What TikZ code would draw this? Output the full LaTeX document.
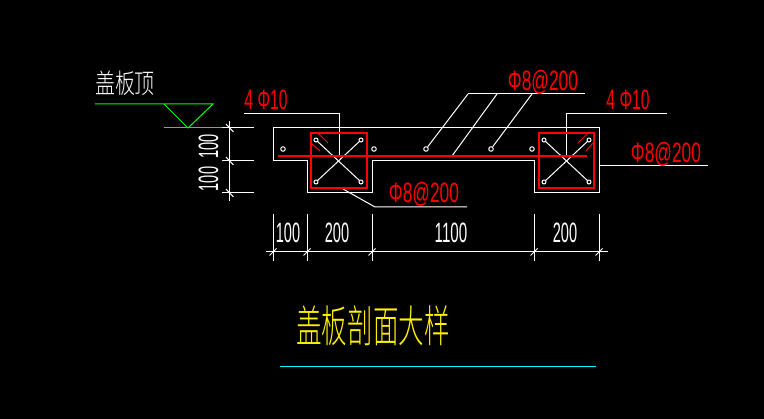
\documentclass[tikz,border=0pt]{standalone}
\usepackage{fontspec}
\setmainfont{Liberation Sans}
\newfontfamily\cjk[UprightFont={* Light}]{Noto Sans CJK SC}
\newcommand\narrow[2]{\scalebox{#1}[1]{#2}}
\definecolor{cadgreen}{RGB}{0,255,0}
\definecolor{cadcyan}{RGB}{0,255,255}
\tikzset{
	rebar/.style={red,line width=1.1pt},
	dimtext/.style={white,inner sep=0pt,anchor=base,font=\fontsize{28}{28}\selectfont},
	redtext/.style={red,inner sep=0pt,anchor=base,font=\fontsize{28}{28}\selectfont}
}

\begin{document}
\begin{tikzpicture}[x=1pt,y=-1pt,line width=1pt]
		\path[fill=black,use as bounding box] (0,0) rectangle (764,419);
		% section outline
		\draw[white] (273,128) -- (599,128) -- (599,193) -- (534,193) -- (534,161)
			-- (372,161) -- (372,193) -- (307,193) -- (307,161) -- (273,161) -- cycle;
		% corner bars
		\foreach \name/\xa/\xb in {l/316/361,r/544/589} {
			\coordinate (\name nw) at (\xa,140);
			\coordinate (\name ne) at (\xb,140);
			\coordinate (\name sw) at (\xa,182);
			\coordinate (\name se) at (\xb,182);
			\draw[white] (\name nw) -- (\name se);
			\draw[white] (\name ne) -- (\name sw);
			\foreach \corner in {nw,ne,sw,se}
				\draw[white,fill=black] (\name\corner) circle (2pt);
		}
		% slab bars
		\foreach \name/\xa in {a/283,b/374,c/426,d/491,e/532} {
			\node(bar\name)[draw=white,fill=black,circle,inner sep=0pt,minimum size=4.5pt] at (\xa,149) {};
		}
		% leaders
		\coordinate (topend) at (585,94);
		\coordinate (topa) at (468,94);
		\coordinate (topb) at (497,94);
		\coordinate (topc) at (532,94);
		\coordinate (slabhit) at (452,156);
		\draw[white] (topa) -- (topend);
		\draw[white] (topa) -- (barc);
		\draw[white] (topb) -- (slabhit);
		\draw[white] (topc) -- (bard);
		\coordinate (lefthit) at (339,156);
		\coordinate (righthit) at (566,156);
		\draw[white] (244,114) -- (339,114) -- (lefthit);
		\draw[white] (667,114) -- (566,114) -- (righthit);
		\draw[white] (599,166) -- (708,166);
		\draw[white] (343,189) -- (375,207) -- (467,207);
		% rebar
		\draw[rebar] (311,133) rectangle (367,188);
		\draw[rebar] (539,133) rectangle (594,188);
		\draw[rebar] (278,156) -- (587,156);
		\draw[red] (319,134) -- (328,143);
		\draw[red] (311,143) -- (320,151);
		\draw[red] (578,143) -- (587,134);
		\draw[red] (586,151) -- (593,143);
		% level mark
		\draw[cadgreen] (95,104) -- (213,104) -- (188,128) -- (164,104);
		\draw[cadgreen] (164,128) -- (222,128);
		% dimensions, left
		\foreach \y in {128,161,193} {
			\draw[white] (222,\y) -- (254,\y);
			\draw[white] (226,\y-4) -- (233.5,\y+4);
		}
		\draw[white] (229.5,121) -- (229.5,201);
		% dimensions, bottom
		\draw[white] (266,252) -- (608,252);
		\foreach \x in {273,307,372,534,599} {
			\draw[white] (\x,214) -- (\x,261);
			\draw[white] (\x-3.5,255.5) -- (\x+3.5,248.5);
		}
		\draw[cadcyan] (280,367) -- (596,367);
		\node(dimleftb)[dimtext,rotate=90,anchor=base] at (218,179) {\narrow{.52}{100}};
		\node(dimlefta)[dimtext,rotate=90,anchor=base] at (218,146.5) {\narrow{.52}{100}};
		\node(dimbota)[dimtext] at (288,243) {\narrow{.52}{100}};
		\node(dimbotb)[dimtext] at (337,243) {\narrow{.52}{200}};
		\node(dimbotc)[dimtext] at (451,243) {\narrow{.54}{1100}};
		\node(dimbotd)[dimtext] at (565,243) {\narrow{.52}{200}};
		% rebar labels
		\node(labtop)[redtext] at (543,91) {\narrow{.62}{Φ8@200}};
		\node(labright)[redtext] at (666,163) {\narrow{.62}{Φ8@200}};
		\node(labbot)[redtext] at (424,203) {\narrow{.62}{Φ8@200}};
		\node(lableft)[redtext] at (266,110) {\narrow{.56}{4 Φ10}};
		\node(labcorner)[redtext] at (628,110) {\narrow{.56}{4 Φ10}};
		% titles
		\node(leveltext)[white,inner sep=0pt,font=\cjk\fontsize{27}{27}\selectfont] at (125,83) {\narrow{.74}{盖板顶}};
		\node(title)[yellow,inner sep=0pt,font=\cjk\fontsize{44}{44}\selectfont] at (373,326) {\narrow{.58}{盖板剖面大样}};
\end{tikzpicture}
\end{document}
